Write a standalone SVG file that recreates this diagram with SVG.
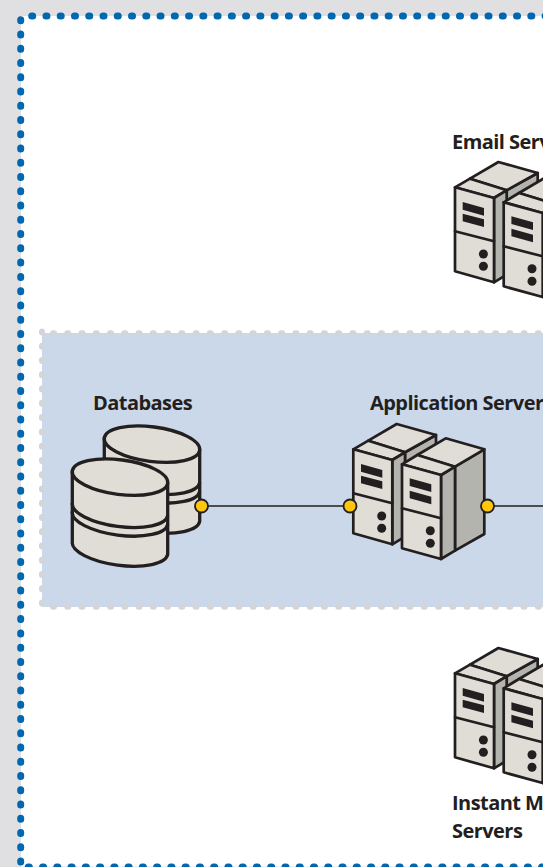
<svg xmlns="http://www.w3.org/2000/svg" width="543" height="867" viewBox="0 0 543 867">
<style>
.ln{stroke:#231f20;stroke-width:2.7;stroke-linejoin:round;stroke-linecap:round}
.f{fill:#e0ddd6}.s{fill:#b3b4ad}.k{fill:#231f20}
.cyl{fill:#e0ddd6;stroke:#231f20;stroke-width:3.300;stroke-linejoin:round}
.band{fill:none;stroke:#231f20;stroke-width:3.300}
.lab{font-family:"Open Sans","Noto Sans",sans-serif;font-weight:700;font-size:20px;fill:#231f20;letter-spacing:-.55px}
.port{fill:#ffc60b;stroke:#231f20;stroke-width:1.800}
.wire{fill:none;stroke:#231f20;stroke-width:1.500}
.edge{fill:none;stroke:#0067b1;stroke-width:7;stroke-linecap:round;stroke-dasharray:1 13.260}
.pedge{fill:none;stroke:#d4d5d8;stroke-width:6;stroke-linecap:round;stroke-dasharray:1 13.260}
</style>
<defs>
<g id="server">
<path class="ln s" d="M405 452.3 436 435V455L405 475Z"/>
<path class="ln f" d="M368.3 440.7 396.7 424 436 435 405 452.3Z"/>
<path class="ln f" d="M353.3 449.3 368.3 440.7 405 452.3 392.3 460Z"/>
<path class="ln s" d="M392.3 460 405 452.3V536.7L392.3 544.3Z"/>
<path class="ln f" d="M353.3 449.3 392.3 460V544.3L353.3 533.3Z"/>
<path class="ln" fill="none" d="M353.3 493.3 392.3 503.3"/>
<path class="k" d="M361 464 382.3 470V477.7L361 471.7ZM361 475.7 382.3 481.3V489L361 483.3Z"/>
<circle class="k" cx="381.7" cy="516" r="4.5"/><circle class="k" cx="381.7" cy="528.3" r="4.5"/>
<path class="ln s" d="M455 466.7 484.3 449.3V534L455 550.7Z"/>
<path class="ln s" d="M441 475 455 466.7V550.7L441 559Z"/>
<path class="ln f" d="M417.3 455 445.7 438.3 484.3 449.3 455 466.7Z"/>
<path class="ln f" d="M402 464.3 417.3 455 455 466.7 441 475Z"/>
<path class="ln f" d="M402 464.3 441 475V559L402 548.3Z"/>
<path class="ln" fill="none" d="M402 508.3 441 518.3"/>
<path class="k" d="M409.7 478.3 431.3 484.3V492L409.7 486ZM409.7 490.7 431.3 496.7V504.3L409.7 498.3Z"/>
<circle class="k" cx="430.3" cy="530.7" r="4.5"/><circle class="k" cx="430.3" cy="543.3" r="4.5"/>
</g>
<g id="cylinder">
<path class="cyl" d="M72.3 471V541.7A48.1 17.3 7.35 0 0 167.7 554.3V483.3Z"/>
<path class="band" d="M72.3 503A48.1 17.3 7.35 0 0 167.7 515.5M72.3 511.7A48.1 17.3 7.35 0 0 167.7 524.2"/>
<ellipse class="cyl" cx="120" cy="477.15" rx="48.1" ry="17.3" transform="rotate(7.35 120 477.15)"/>
</g>
</defs>
<rect width="543" height="867" fill="#e0e0e2"/>
<rect x="21" y="16" width="600" height="850.500" fill="#fff"/>
<path class="edge" d="M20.700 19.700V870M31.700 16H640M28.300 867H640"/>
<g id="zone">
<rect x="42" y="333" width="600" height="274" fill="#cbd8ea"/>
<path class="pedge" d="M42 603.500V330M53 606.700H640M53 333.300H640"/>
</g>
<g id="connectors">
<path class="wire" d="M201.500 506H350M487.500 506H543"/>
</g>
<g id="email-servers">
<text class="lab" x="452" y="149">Email Serv</text>
<use href="#server" x="101.700" y="-262"/>
</g>
<g id="databases">
<text class="lab" x="93" y="410">Databases</text>
<use href="#cylinder" x="32" y="-33"/>
<use href="#cylinder"/>
<circle class="port" cx="201.500" cy="506" r="6.500"/>
</g>
<g id="application-servers">
<text class="lab" x="370" y="410">Application Server</text>
<use href="#server"/>
<circle class="port" cx="350" cy="506" r="6.500"/>
<circle class="port" cx="487.500" cy="506" r="6.500"/>
</g>
<g id="instant-messaging-servers">
<use href="#server" x="101.700" y="224"/>
<text class="lab" x="452" y="810">Instant M</text>
<text class="lab" x="452" y="838">Servers</text>
</g>
</svg>
